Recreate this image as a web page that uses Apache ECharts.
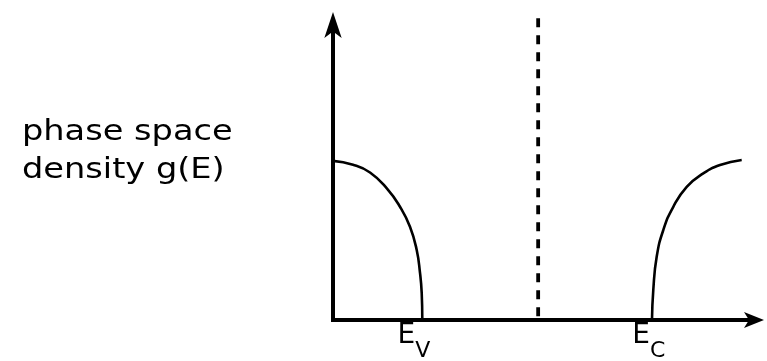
<!DOCTYPE html>
<html>
<head>
<meta charset="utf-8">
<script src="https://cdn.jsdelivr.net/npm/echarts@6/dist/echarts.min.js"></script>
<style>
  html, body { margin: 0; padding: 0; background: #fff; }
  #chart { width: 767px; height: 361px; }
</style>
</head>
<body>
<div id="chart"></div>
<script>
// Density of states g(E) around the band gap (arbitrary units).
// Valence band: g falls to zero at E_V.
const valenceE = [0, 0.473, 0.875, 1.277, 1.584, 1.820, 1.979, 2.057, 2.097, 2.111];
const valenceG = [5.34, 5.21, 4.95, 4.41, 3.80, 3.13, 2.35, 1.58, 0.91, 0];
// Conduction band: g rises from zero at E_C.
const conductionE = [7.541, 7.572, 7.652, 7.809, 8.045, 8.362, 8.754, 9.149, 9.662];
const conductionG = [0, 1.01, 2.12, 3.02, 3.80, 4.47, 4.92, 5.20, 5.37];
// Mid-gap marker (dashed vertical line).
const midGapE = 4.85;
const midGapTop = 10.13;
// Band-edge labels: subscript and position on the energy axis.
const edgeNames = ['V', 'C'];
const edgeEnergies = [2.111, 7.541];
const yTitle = 'phase space\ndensity g(E)';

const zip = (xs, ys) => xs.map((x, i) => [x, ys[i]]);

const chart = echarts.init(document.getElementById('chart'), null, { renderer: 'canvas' });

const axisCommon = {
  type: 'value',
  min: 0,
  max: 10,
  axisTick: { show: false },
  axisLabel: { show: false },
  splitLine: { show: false }
};

const curveStyle = { color: '#000', width: 2.6 };

chart.setOption({
  animation: false,
  backgroundColor: '#fff',
  grid: { left: 333, right: 11, top: 22, bottom: 41 },
  xAxis: Object.assign({}, axisCommon, {
    axisLine: {
      show: true,
      symbol: ['none', 'arrow'],
      symbolSize: [12, 20],
      symbolOffset: [0, 8],
      lineStyle: { color: '#000', width: 4, cap: 'square' }
    }
  }),
  yAxis: Object.assign({}, axisCommon, {
    axisLine: {
      show: true,
      symbol: ['none', 'arrow'],
      symbolSize: [13, 26],
      symbolOffset: [0, 10],
      lineStyle: { color: '#000', width: 4, cap: 'square' }
    }
  }),
  series: [
    {
      type: 'line',
      data: zip(valenceE, valenceG),
      smooth: 0.5,
      showSymbol: false,
      silent: true,
      lineStyle: curveStyle
    },
    {
      type: 'line',
      data: zip(conductionE, conductionG),
      smooth: 0.5,
      showSymbol: false,
      silent: true,
      lineStyle: curveStyle
    },
    {
      type: 'line',
      data: [[midGapE, midGapTop], [midGapE, 0]],
      showSymbol: false,
      silent: true,
      clip: false,
      lineStyle: { color: '#000', width: 3.8, type: [9, 8], cap: 'butt' }
    }
  ]
});

// Band-edge labels E_V and E_C, placed from the axis scale.
const edgeShift = [-7, -2];
const labelGraphics = [];
edgeNames.forEach((name, i) => {
  const p = chart.convertToPixel({ gridIndex: 0 }, [edgeEnergies[i], 0]);
  const jx = p[0] + edgeShift[i];
  labelGraphics.push({
    type: 'text',
    x: jx,
    y: 336,
    style: {
      text: 'E',
      fontSize: 28,
      fontFamily: 'DejaVu Sans',
      fill: '#000',
      textAlign: 'right',
      textVerticalAlign: 'middle'
    }
  });
  labelGraphics.push({
    type: 'text',
    x: jx,
    y: 351,
    style: {
      text: name,
      fontSize: 22,
      fontFamily: 'DejaVu Sans',
      fill: '#000',
      textAlign: 'left',
      textVerticalAlign: 'middle'
    }
  });
});

labelGraphics.push({
  type: 'text',
  x: 22,
  y: 114,
  scaleX: 1.2,
  style: {
    text: yTitle,
    fontSize: 28,
    fontFamily: 'DejaVu Sans',
    lineHeight: 38,
    fill: '#000',
    textAlign: 'left',
    textVerticalAlign: 'top'
  }
});

chart.setOption({ graphic: labelGraphics });
</script>
</body>
</html>
